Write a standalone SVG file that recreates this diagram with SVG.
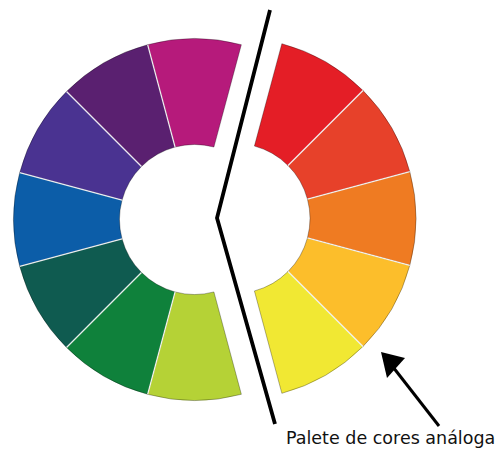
<svg xmlns="http://www.w3.org/2000/svg" width="497" height="452" viewBox="0 0 497 452">
<style>
.seg{stroke:#000;stroke-opacity:0.3;stroke-width:1;stroke-linejoin:round}
.sep{stroke:#fff;stroke-width:1.3;stroke-opacity:0.9}
.cut{fill:none;stroke:#000;stroke-width:3.8;stroke-linejoin:miter}
.lbl{font-family:"DejaVu Sans","Liberation Sans",sans-serif;font-size:17.5px;fill:#111}
</style>
<rect width="497" height="452" fill="#fff"/>
<g id="left-half">
<g id="magenta"><path class="seg" fill="#B61A7B" d="M147.65,44.67 A181,181 0 0 1 241.35,44.67 L213.91,147.06 A75,75 0 0 0 175.09,147.06 Z"/></g>
<g id="purple"><path class="seg" fill="#5A2070" d="M66.51,91.51 A181,181 0 0 1 147.65,44.67 L175.09,147.06 A75,75 0 0 0 141.47,166.47 Z"/></g>
<g id="indigo"><path class="seg" fill="#4A3391" d="M19.67,172.65 A181,181 0 0 1 66.51,91.51 L141.47,166.47 A75,75 0 0 0 122.06,200.09 Z"/></g>
<g id="blue"><path class="seg" fill="#0C5DA8" d="M19.67,266.35 A181,181 0 0 1 19.67,172.65 L122.06,200.09 A75,75 0 0 0 122.06,238.91 Z"/></g>
<g id="teal"><path class="seg" fill="#0F5B50" d="M66.51,347.49 A181,181 0 0 1 19.67,266.35 L122.06,238.91 A75,75 0 0 0 141.47,272.53 Z"/></g>
<g id="green"><path class="seg" fill="#0F813B" d="M147.65,394.33 A181,181 0 0 1 66.51,347.49 L141.47,272.53 A75,75 0 0 0 175.09,291.94 Z"/></g>
<g id="yellow-green"><path class="seg" fill="#B5D236" d="M241.35,394.33 A181,181 0 0 1 147.65,394.33 L175.09,291.94 A75,75 0 0 0 213.91,291.94 Z"/></g>
</g>
<g id="right-half">
<g id="red"><path class="seg" fill="#E41E26" d="M281.85,43.67 A181,181 0 0 1 362.99,90.51 L288.03,165.47 A75,75 0 0 0 254.41,146.06 Z"/></g>
<g id="red-orange"><path class="seg" fill="#E7412A" d="M362.99,90.51 A181,181 0 0 1 409.83,171.65 L307.44,199.09 A75,75 0 0 0 288.03,165.47 Z"/></g>
<g id="orange"><path class="seg" fill="#EF7B22" d="M409.83,171.65 A181,181 0 0 1 409.83,265.35 L307.44,237.91 A75,75 0 0 0 307.44,199.09 Z"/></g>
<g id="yellow-orange"><path class="seg" fill="#FCBE2B" d="M409.83,265.35 A181,181 0 0 1 362.99,346.49 L288.03,271.53 A75,75 0 0 0 307.44,237.91 Z"/></g>
<g id="yellow"><path class="seg" fill="#F1E833" d="M362.99,346.49 A181,181 0 0 1 281.85,393.33 L254.41,290.94 A75,75 0 0 0 288.03,271.53 Z"/></g>
</g>
<g id="separators">
<path class="sep" d="M147.65,44.67 L175.09,147.06 M66.51,91.51 L141.47,166.47 M19.67,172.65 L122.06,200.09 M19.67,266.35 L122.06,238.91 M66.51,347.49 L141.47,272.53 M147.65,394.33 L175.09,291.94"/>
<path class="sep" d="M362.99,90.51 L288.03,165.47 M409.83,171.65 L307.44,199.09 M409.83,265.35 L307.44,237.91 M362.99,346.49 L288.03,271.53"/>
</g>
<g id="connectors">
<path class="cut" d="M270,10 L217,218 L275,424"/>
<line x1="439" y1="426" x2="393" y2="367" stroke="#000" stroke-width="3"/>
<polygon points="381,352 405,358 387,378" fill="#000"/>
</g>
<g id="label">
<text class="lbl" x="286" y="444">Palete de cores análoga</text>
</g>
</svg>
